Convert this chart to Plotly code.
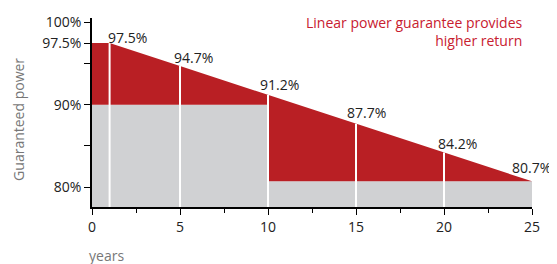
import plotly.graph_objects as go

# Data
linear_years = [0, 1, 5, 10, 15, 20, 25]
linear_values = [97.5, 97.5, 94.7, 91.2, 87.7, 84.2, 80.7]
step_years = [0, 10, 10, 25]
step_values = [90, 90, 80.7, 80.7]
label_years = [1, 5, 10, 15, 20, 25]
label_values = [97.5, 94.7, 91.2, 87.7, 84.2, 80.7]
x_tick_vals = [0, 5, 10, 15, 20, 25]
y_tick_vals = [80, 85, 90, 95, 97.5, 100]
y_tick_text = ["80%", "", "90%", "", "97.5%", "100%"]

# label offsets (pixels) for placement
label_dx = [18, 13, 11, 10, 13, -1]
label_dy = [6, 9, 10, 11, 9, 14]

RED = "#B91F24"
GRAY = "#D0D1D3"
FONT = "Open Sans"

fig = go.Figure()
fig.add_trace(go.Scatter(x=step_years, y=step_values, mode="lines",
                         line=dict(width=0, color=GRAY), fill="tozeroy",
                         fillcolor=GRAY, hoverinfo="skip", showlegend=False))
fig.add_trace(go.Scatter(x=linear_years, y=linear_values, mode="lines",
                         line=dict(width=0, color=RED), fill="tonexty",
                         fillcolor=RED, hoverinfo="skip", showlegend=False))

# white separators from bottom up to the linear value
vx, vy = [], []
for yr, v in zip(label_years[:-1], label_values[:-1]):
    vx += [yr, yr, None]
    vy += [70, v, None]
fig.add_trace(go.Scatter(x=vx, y=vy, mode="lines", line=dict(color="white", width=2),
                         hoverinfo="skip", showlegend=False))

for yr, v, dx, dy in zip(label_years, label_values, label_dx, label_dy):
    fig.add_annotation(x=yr, y=v, text=f"{v}%", showarrow=False, xanchor="center",
                       yanchor="middle", xshift=dx, yshift=dy,
                       font=dict(family=FONT, size=14, color="#222"))

fig.add_annotation(xref="paper", yref="paper", x=0.984, y=1.037, xanchor="right", yanchor="top",
                   align="right", showarrow=False,
                   text="Linear power guarantee provides<br>higher return",
                   font=dict(family=FONT, size=14, color="#C8202F"))
fig.add_annotation(xref="paper", yref="paper", x=-0.012, y=-0.254, xanchor="left", yanchor="middle",
                   showarrow=False, text="years",
                   font=dict(family=FONT, size=14, color="#777"))
fig.add_annotation(xref="paper", yref="paper", x=-0.166, y=0.466, xanchor="center", yanchor="middle",
                   showarrow=False, text="Guaranteed power", textangle=-90,
                   font=dict(family=FONT, size=14, color="#777"))

fig.update_layout(
    width=549, height=256,
    margin=dict(l=84, r=25, t=10, b=57, autoexpand=False),
    paper_bgcolor="white", plot_bgcolor="white",
    font=dict(family=FONT, size=14, color="#222"),
    xaxis=dict(range=[0, 25], tickvals=x_tick_vals, showgrid=False, zeroline=False,
               automargin=False,
               showline=True, linecolor="black", linewidth=1.5, ticks="outside",
               ticklen=6, tickcolor="black", ticklabeloverflow="allow",
               minor=dict(dtick=2.5, tick0=0, ticks="outside", ticklen=4, tickcolor="black"),
               tickfont=dict(size=14, color="#222")),
    yaxis=dict(range=[77.57, 100.55], tickvals=y_tick_vals, ticktext=y_tick_text, showgrid=False,
               automargin=False,
               zeroline=False, showline=True, linecolor="black", linewidth=1.5,
               ticks="outside", ticklen=6, tickcolor="black", ticklabeloverflow="allow",
               tickfont=dict(size=14, color="#222")),
)

fig.write_html("out.html")
